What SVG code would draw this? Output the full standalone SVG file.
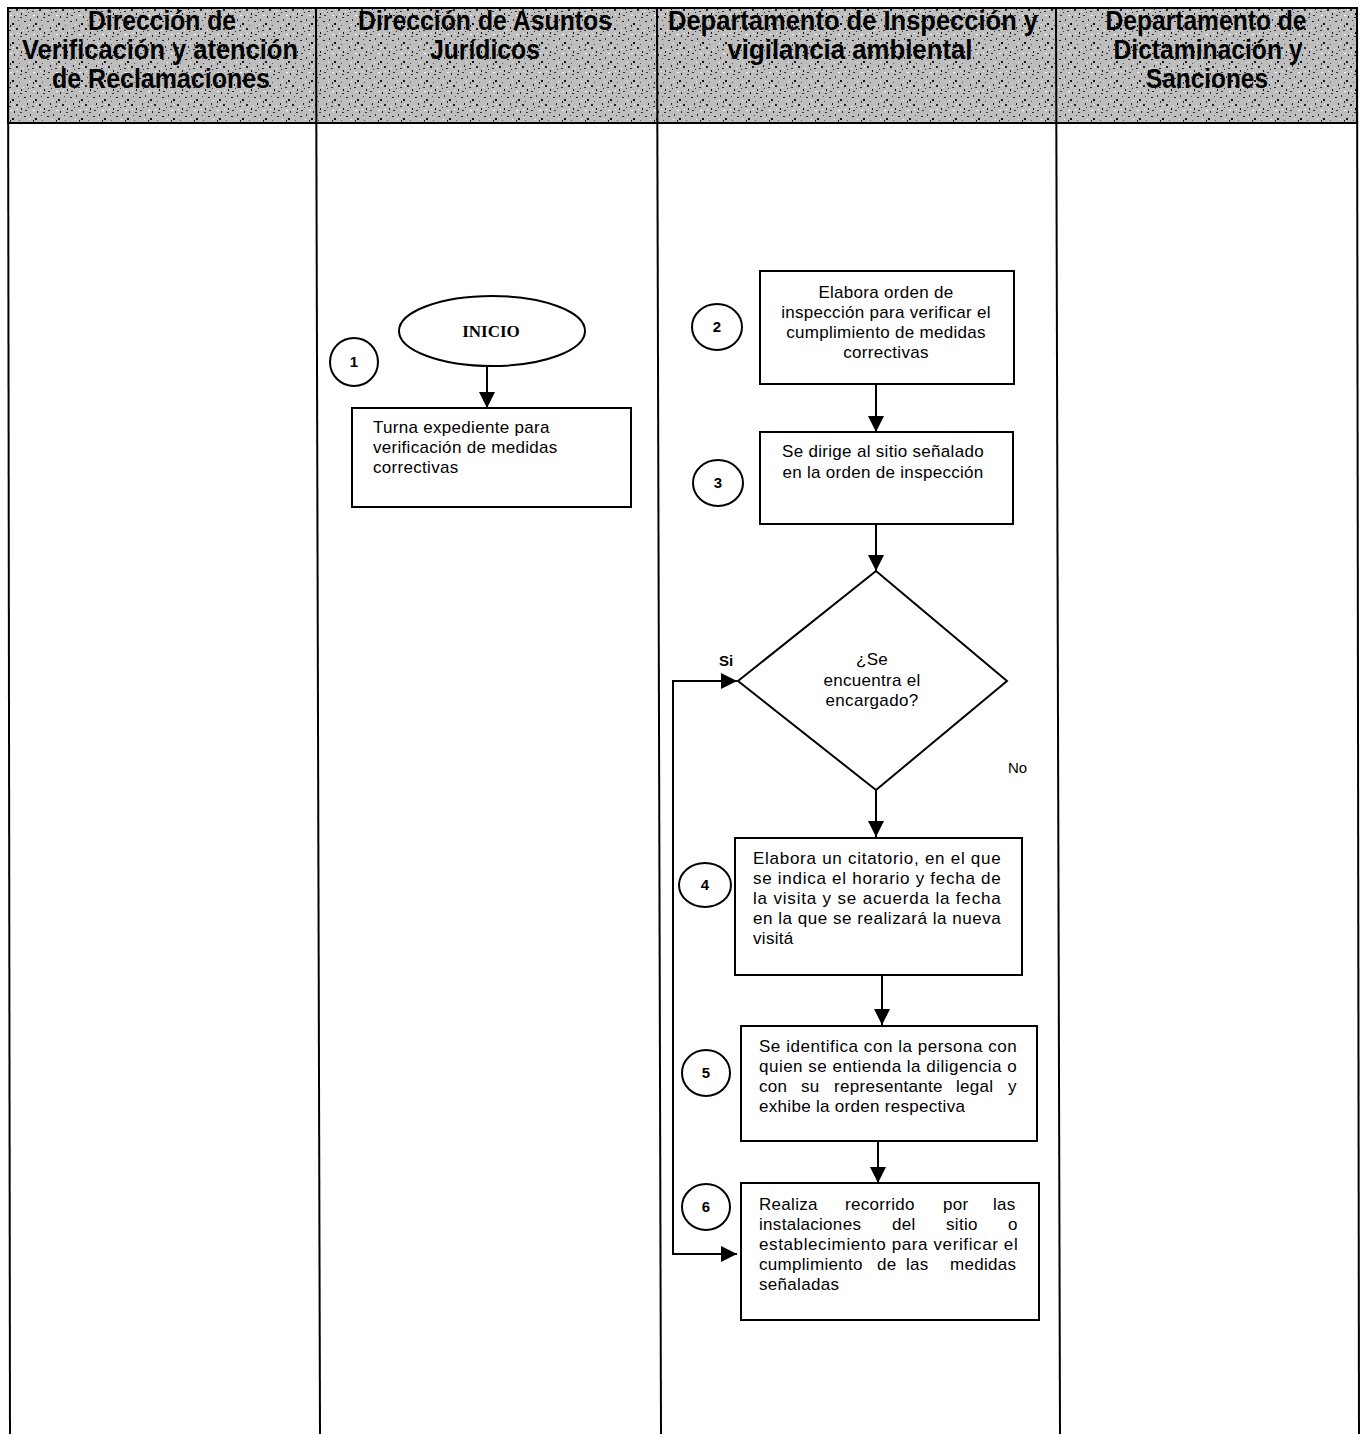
<svg xmlns="http://www.w3.org/2000/svg" width="1365" height="1434" viewBox="0 0 1365 1434">
<style>
.hdr{font-family:"Liberation Sans",Arial,sans-serif;font-weight:bold;font-size:27px;fill:#000;text-anchor:middle}
.box{fill:#fff;stroke:#000;stroke-width:2}
.t{font-family:"Liberation Sans",Arial,sans-serif;font-size:17px;letter-spacing:0.3px;fill:#000}
.c{text-anchor:middle}
.num{font-family:"Liberation Sans",Arial,sans-serif;font-size:15px;font-weight:bold;fill:#000;text-anchor:middle}
.lane{stroke:#000;stroke-width:2;fill:none}
.conn{stroke:#000;stroke-width:2;fill:none}
.lbl{font-family:"Liberation Sans",Arial,sans-serif;font-size:15px;fill:#000}
</style>
<defs>
<pattern id="noise" width="23" height="19" patternUnits="userSpaceOnUse">
<rect width="23" height="19" fill="#bdbdbd"/>
<rect x="1" y="2" width="2" height="1" fill="#222"/>
<rect x="7" y="0" width="1" height="2" fill="#333"/>
<rect x="12" y="4" width="2" height="2" fill="#111"/>
<rect x="18" y="1" width="1" height="1" fill="#444"/>
<rect x="4" y="8" width="1" height="2" fill="#222"/>
<rect x="9" y="11" width="2" height="1" fill="#333"/>
<rect x="16" y="9" width="2" height="2" fill="#222"/>
<rect x="21" y="13" width="1" height="2" fill="#111"/>
<rect x="2" y="15" width="2" height="1" fill="#333"/>
<rect x="14" y="16" width="1" height="2" fill="#222"/>
<rect x="19" y="6" width="1" height="1" fill="#555"/>
<rect x="5" y="12" width="1" height="1" fill="#333"/>
<rect x="10" y="6" width="1" height="2" fill="#222"/>
<rect x="20" y="17" width="2" height="1" fill="#333"/>
<rect x="6" y="5" width="1" height="1" fill="#fff"/>
<rect x="10" y="15" width="2" height="1" fill="#fff"/>
<rect x="0" y="11" width="1" height="1" fill="#fff"/>
<rect x="17" y="14" width="1" height="1" fill="#fff"/>
<rect x="13" y="9" width="1" height="1" fill="#fff"/>
</pattern>
<marker id="arr" viewBox="0 0 16 16" refX="16" refY="8" markerWidth="16" markerHeight="16" markerUnits="userSpaceOnUse" orient="auto-start-reverse">
<path d="M0,0 L16,8 L0,16 Z" fill="#000"/>
</marker>
</defs>
<rect width="1365" height="1434" fill="#fff"/>

<g id="header">
<rect x="8" y="8" width="1349" height="115" fill="url(#noise)" stroke="#000" stroke-width="2"/>
</g>
<g id="lanes">
<line class="lane" x1="8" y1="8" x2="10" y2="1434"/>
<line class="lane" x1="316" y1="8" x2="320" y2="1434"/>
<line class="lane" x1="657" y1="8" x2="661" y2="1434"/>
<line class="lane" x1="1056" y1="8" x2="1060" y2="1434"/>
<line class="lane" x1="1357" y1="8" x2="1359" y2="1434"/>
<line class="lane" x1="8" y1="123" x2="1357" y2="123"/>
</g>
<g id="lane1-title">
<text class="hdr" x="162" y="30" textLength="148" lengthAdjust="spacingAndGlyphs">Dirección de</text>
<text class="hdr" x="160" y="59" textLength="276" lengthAdjust="spacingAndGlyphs">Verificación y atención</text>
<text class="hdr" x="161" y="88" textLength="218" lengthAdjust="spacingAndGlyphs">de Reclamaciones</text>
</g>
<g id="lane2-title">
<text class="hdr" x="485" y="30" textLength="254" lengthAdjust="spacingAndGlyphs">Dirección de Asuntos</text>
<text class="hdr" x="485" y="59" textLength="110" lengthAdjust="spacingAndGlyphs">Jurídicos</text>
</g>
<g id="lane3-title">
<text class="hdr" x="853" y="30" textLength="370" lengthAdjust="spacingAndGlyphs">Departamento de Inspección y</text>
<text class="hdr" x="850" y="59" textLength="245" lengthAdjust="spacingAndGlyphs">vigilancia ambiental</text>
</g>
<g id="lane4-title">
<text class="hdr" x="1206" y="30" textLength="201" lengthAdjust="spacingAndGlyphs">Departamento de</text>
<text class="hdr" x="1208" y="59" textLength="189" lengthAdjust="spacingAndGlyphs">Dictaminación y</text>
<text class="hdr" x="1207" y="88" textLength="122" lengthAdjust="spacingAndGlyphs">Sanciones</text>
</g>

<g id="connectors">
<line class="conn" x1="487" y1="367" x2="487" y2="408" marker-end="url(#arr)"/>
<line class="conn" x1="876" y1="384" x2="876" y2="432" marker-end="url(#arr)"/>
<line class="conn" x1="876" y1="524" x2="876" y2="571" marker-end="url(#arr)"/>
<line class="conn" x1="876" y1="790" x2="876" y2="837" marker-end="url(#arr)"/>
<line class="conn" x1="882" y1="975" x2="882" y2="1025" marker-end="url(#arr)"/>
<line class="conn" x1="878" y1="1141" x2="878" y2="1183" marker-end="url(#arr)"/>
<path class="conn" d="M737,681 L673,681 L673,1254 L737,1254" marker-start="url(#arr)" marker-end="url(#arr)"/>
<text class="lbl" x="719" y="666" font-weight="bold">Si</text>
<text class="lbl" x="1008" y="773">No</text>
</g>

<g id="inicio">
<ellipse cx="492" cy="331" rx="93" ry="35" class="box"/>
<text x="491" y="337" font-family="Liberation Serif, Times New Roman, serif" font-size="17" font-weight="bold" text-anchor="middle">INICIO</text>
</g>
<g id="step1-num">
<ellipse cx="354" cy="362" rx="24" ry="24" class="box"/>
<text class="num" x="354" y="367">1</text>
</g>
<g id="step1">
<rect x="352" y="408" width="279" height="99" class="box"/>
<text class="t" x="373" y="433">Turna expediente para</text>
<text class="t" x="373" y="453">verificación de medidas</text>
<text class="t" x="373" y="473">correctivas</text>
</g>

<g id="step2-num">
<ellipse cx="717" cy="327" rx="25" ry="23" class="box"/>
<text class="num" x="717" y="332">2</text>
</g>
<g id="step2">
<rect x="760" y="271" width="254" height="113" class="box"/>
<text class="t c" x="886" y="298">Elabora orden de</text>
<text class="t c" x="886" y="318">inspección para verificar el</text>
<text class="t c" x="886" y="338">cumplimiento de medidas</text>
<text class="t c" x="886" y="358">correctivas</text>
</g>

<g id="step3-num">
<ellipse cx="718" cy="483" rx="25" ry="23" class="box"/>
<text class="num" x="718" y="488">3</text>
</g>
<g id="step3">
<rect x="760" y="432" width="253" height="92" class="box"/>
<text class="t c" x="883" y="457">Se dirige al sitio señalado</text>
<text class="t c" x="883" y="478">en la orden de inspección</text>
</g>

<g id="decision">
<polygon points="876,571 1007,681 876,790 738,681" class="box"/>
<text class="t c" x="872" y="665">¿Se</text>
<text class="t c" x="872" y="686">encuentra el</text>
<text class="t c" x="872" y="706">encargado?</text>
</g>

<g id="step4-num">
<ellipse cx="705" cy="885" rx="26" ry="22" class="box"/>
<text class="num" x="705" y="890">4</text>
</g>
<g id="step4">
<rect x="735" y="838" width="287" height="137" class="box"/>
<text class="t" x="753" y="864" textLength="248" lengthAdjust="spacing">Elabora un citatorio, en el que</text>
<text class="t" x="753" y="884" textLength="248" lengthAdjust="spacing">se indica el horario y fecha de</text>
<text class="t" x="753" y="904" textLength="248" lengthAdjust="spacing">la visita y se acuerda la fecha</text>
<text class="t" x="753" y="924" textLength="248" lengthAdjust="spacing">en la que se realizará la nueva</text>
<text class="t" x="753" y="944">visitá</text>
</g>

<g id="step5-num">
<ellipse cx="706" cy="1073" rx="24" ry="23" class="box"/>
<text class="num" x="706" y="1078">5</text>
</g>
<g id="step5">
<rect x="741" y="1026" width="296" height="115" class="box"/>
<text class="t" x="759" y="1052" textLength="258" lengthAdjust="spacing">Se identifica con la persona con</text>
<text class="t" x="759" y="1072" textLength="258" lengthAdjust="spacing">quien se entienda la diligencia o</text>
<text class="t" y="1092"><tspan x="759">con</tspan><tspan x="801">su</tspan><tspan x="834">representante</tspan><tspan x="956">legal</tspan><tspan x="1008">y</tspan></text>
<text class="t" x="759" y="1112">exhibe la orden respectiva</text>
</g>

<g id="step6-num">
<ellipse cx="706" cy="1207" rx="24" ry="23" class="box"/>
<text class="num" x="706" y="1212">6</text>
</g>
<g id="step6">
<rect x="741" y="1183" width="298" height="137" class="box"/>
<text class="t" y="1210"><tspan x="759">Realiza</tspan><tspan x="845">recorrido</tspan><tspan x="943">por</tspan><tspan x="993">las</tspan></text>
<text class="t" y="1230"><tspan x="759">instalaciones</tspan><tspan x="892">del</tspan><tspan x="946">sitio</tspan><tspan x="1008">o</tspan></text>
<text class="t" x="759" y="1250" textLength="259" lengthAdjust="spacing">establecimiento para verificar el</text>
<text class="t" y="1270"><tspan x="759">cumplimiento</tspan><tspan x="877">de</tspan><tspan x="906">las</tspan><tspan x="950">medidas</tspan></text>
<text class="t" x="759" y="1290">señaladas</text>
</g>
</svg>
